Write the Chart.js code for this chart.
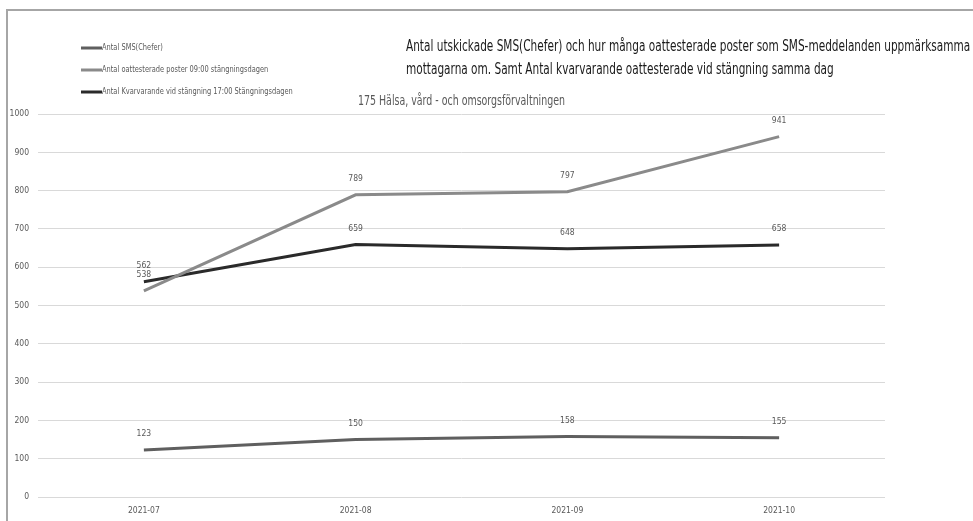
<!DOCTYPE html>
<html>
<head>
<meta charset="utf-8">
<title>Antal utskickade SMS</title>
<script src="https://cdn.jsdelivr.net/npm/chart.js@4.4.1/dist/chart.umd.min.js"></script>
<style>
  html, body { margin: 0; padding: 0; background: #fff; }
  #wrap { position: relative; width: 973px; height: 521px; overflow: hidden; }
  #frame { position: absolute; left: 6px; top: 9px; width: 980px; height: 530px;
           border-left: 2px solid #a6a6a6; border-top: 2px solid #a6a6a6; }
  canvas { position: absolute; left: 0; top: 0; }
</style>
</head>
<body>
<div id="wrap">
  <div id="frame"></div>
  <canvas id="smsChart" width="973" height="521"></canvas>
</div>
<script>
// Data
const months = ['2021-07', '2021-08', '2021-09', '2021-10'];
const smsChefer = [123, 150, 158, 155];
const oattesterade0900 = [538, 789, 797, 941];
const kvarvarande1700 = [562, 659, 648, 658];

const seriesNames = [
    'Antal SMS(Chefer)',
    'Antal oattesterade poster 09:00 stängningsdagen',
    'Antal Kvarvarande vid stängning 17:00 Stängningsdagen'
];
const titleLines = [
    'Antal utskickade SMS(Chefer) och hur många oattesterade poster som SMS-meddelanden uppmärksamma',
    'mottagarna om. Samt Antal kvarvarande oattesterade vid stängning samma dag'
];
const subTitle = '175 Hälsa, vård - och omsorgsförvaltningen';

const narrow = "'Liberation Sans Narrow', 'DejaVu Sans Condensed', sans-serif";
const labelGray = '#595959';

// draw text squeezed horizontally (the narrow font is still a bit wide)
function squeezedText(ctx, text, x, y, squeeze) {
    ctx.save();
    ctx.translate(x, y);
    ctx.scale(squeeze, 1);
    ctx.fillText(text, 0, 0);
    ctx.restore();
}

// Headings + legend drawn straight onto the canvas
const headings = {
    id: 'headings',
    afterDraw(chart) {
        const ctx = chart.ctx;
        const area = chart.chartArea;
        ctx.save();
        ctx.textBaseline = 'middle';

        ctx.fillStyle = '#1a1a1a';
        ctx.font = `15px ${narrow}`;
        ctx.textAlign = 'left';
        squeezedText(ctx, titleLines[0], 406, 47, 0.78);
        squeezedText(ctx, titleLines[1], 406, 70, 0.78);

        ctx.fillStyle = labelGray;
        ctx.font = `14px ${narrow}`;
        ctx.textAlign = 'center';
        squeezedText(ctx, subTitle, (area.left + area.right) / 2, 101, 0.75);

        // legend
        ctx.font = `8.5px ${narrow}`;
        ctx.textAlign = 'left';
        chart.data.datasets.forEach((ds, i) => {
            const y = 48 + i * 22;
            ctx.strokeStyle = ds.borderColor;
            ctx.lineWidth = 3;
            ctx.beginPath();
            ctx.moveTo(81, y);
            ctx.lineTo(102, y);
            ctx.stroke();
            ctx.fillStyle = labelGray;
            squeezedText(ctx, ds.label, 102, y, 0.87);
        });
        ctx.restore();
    }
};

// Value labels above every point
const valueLabels = {
    id: 'valueLabels',
    afterDatasetsDraw(chart) {
        const ctx = chart.ctx;
        ctx.save();
        ctx.font = `8.5px ${narrow}`;
        ctx.fillStyle = labelGray;
        ctx.textAlign = 'center';
        ctx.textBaseline = 'middle';
        chart.data.datasets.forEach((ds, i) => {
            chart.getDatasetMeta(i).data.forEach((pt, j) => {
                ctx.fillText(ds.data[j], pt.x, pt.y - 16);
            });
        });
        ctx.restore();
    }
};

const ctx = document.getElementById('smsChart').getContext('2d');
new Chart(ctx, {
    type: 'line',
    data: {
        labels: months,
        datasets: [{
            label: seriesNames[0],
            data: smsChefer,
            borderColor: '#5f5f5f',
            borderWidth: 3,
            pointRadius: 0,
            tension: 0
        }, {
            label: seriesNames[1],
            data: oattesterade0900,
            borderColor: '#8a8a8a',
            borderWidth: 3,
            pointRadius: 0,
            tension: 0
        }, {
            label: seriesNames[2],
            data: kvarvarande1700,
            borderColor: '#2a2a2a',
            borderWidth: 3,
            pointRadius: 0,
            tension: 0
        }]
    },
    options: {
        responsive: false,
        animation: false,
        layout: { padding: { top: 114, right: 88, left: 0, bottom: 0 } },
        plugins: {
            legend: { display: false },
            title: { display: false },
            tooltip: { enabled: false }
        },
        scales: {
            x: {
                offset: true,
                grid: { display: false, drawTicks: false },
                border: { display: false },
                ticks: { color: labelGray, padding: 9, font: { family: narrow, size: 8.5 } },
                afterFit(scale) { scale.height = 24; }
            },
            y: {
                min: 0,
                max: 1000,
                ticks: {
                    stepSize: 100,
                    padding: 9,
                    color: labelGray,
                    font: { family: narrow, size: 8.5 },
                    callback: v => String(v)
                },
                grid: { color: '#d9d9d9', lineWidth: 1, drawTicks: false },
                border: { display: false },
                afterFit(scale) { scale.width = 38; }
            }
        }
    },
    plugins: [headings, valueLabels]
});
</script>
</body>
</html>
